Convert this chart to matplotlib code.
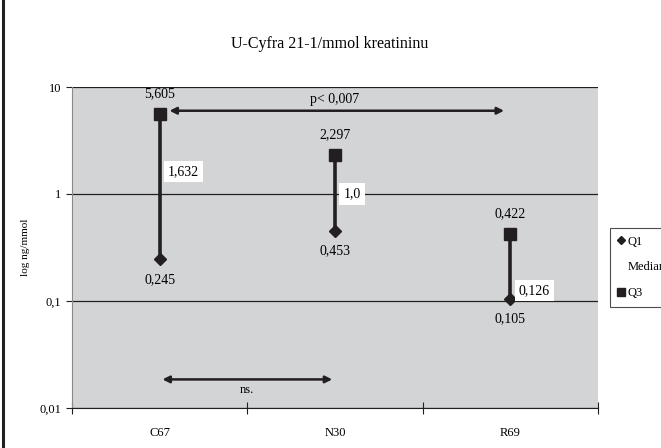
import numpy as np
import matplotlib.pyplot as plt
from matplotlib.lines import Line2D

groups = ['C67', 'N30', 'R69']
q1 = [0.245, 0.453, 0.105]
q3 = [5.605, 2.297, 0.422]
median = [1.632, 1.0, 0.126]
q1_txt = ['0,245', '0,453', '0,105']
q3_txt = ['5,605', '2,297', '0,422']
med_txt = ['1,632', '1,0', '0,126']

plt.rcParams['font.family'] = ['Liberation Serif', 'DejaVu Serif']

fig = plt.figure(figsize=(6.61, 4.48), dpi=100)
ax = fig.add_axes([72/661, 1-408/448, 526/661, 321/448])
ax.set_facecolor('#d3d4d6')

x = np.arange(len(groups)) + 0.5
for i in range(len(groups)):
    ax.plot([x[i], x[i]], [q1[i], q3[i]], color='#231f20', lw=2.6, zorder=3)
ax.plot(x, q1, 'D', color='#231f20', ms=6, zorder=4, label='Q1')
ax.plot(x, median, ls='none', marker='none', label='Median')
ax.plot(x, q3, 's', color='#231f20', ms=8, zorder=4, label='Q3')

for i in range(len(groups)):
    ax.annotate(q3_txt[i], (x[i], q3[i]), xytext=(0, 10), textcoords='offset points',
                ha='center', va='bottom', fontsize=10)
    ax.annotate(q1_txt[i], (x[i], q1[i]), xytext=(0, -10), textcoords='offset points',
                ha='center', va='top', fontsize=10)
    ax.annotate(med_txt[i], (x[i], median[i]), xytext=(6, 0), textcoords='offset points',
                ha='left', va='center', fontsize=10,
                bbox=dict(boxstyle='square,pad=0.3', fc='white', ec='none'), zorder=5)

ax.set_yscale('log')
ax.set_ylim(0.01, 10)
ax.set_xlim(0, 3)
ax.set_yticks([0.01, 0.1, 1, 10])
ax.set_yticklabels(['0,01', '0,1', '1', '10'], fontsize=9)
ax.yaxis.set_minor_locator(plt.NullLocator())
ax.set_xticks([0, 1, 2, 3])
ax.set_xticklabels([])
ax.set_xticks(x, minor=True)
ax.set_xticklabels(groups, minor=True, fontsize=9)
ax.tick_params(axis='x', which='major', direction='inout', length=8, color='#231f20')
ax.tick_params(axis='x', which='minor', length=0, pad=14)
ax.tick_params(axis='y', direction='out', length=4, color='#231f20')
ax.grid(axis='y', which='major', color='#231f20', lw=0.9)
for s in ['top', 'right']:
    ax.spines[s].set_visible(False)
ax.spines['left'].set_color('#8a8a8a')
ax.spines['bottom'].set_color('#231f20')
ax.set_axisbelow(True)
ax.set_ylabel('log ng/mmol', fontsize=8, labelpad=7)

ax.annotate('', xy=(2.48, 6.0), xytext=(0.54, 6.0),
            arrowprops=dict(arrowstyle='<|-|>', color='#231f20', lw=1.8, mutation_scale=10))
ax.text(1.5, 7.7, 'p< 0,007', ha='center', va='center', fontsize=10)
ax.annotate('', xy=(1.5, 0.0185), xytext=(0.5, 0.0185),
            arrowprops=dict(arrowstyle='<|-|>', color='#231f20', lw=1.8, mutation_scale=10))
ax.text(1.0, 0.0147, 'ns.', ha='center', va='center', fontsize=9)

fig.text(330/661, 1-44/448, 'U-Cyfra 21-1/mmol kreatininu', ha='center', va='center', fontsize=11.5)

leg = ax.legend(loc='upper left', bbox_to_anchor=(604/661, 1-222/448), bbox_transform=fig.transFigure,
                frameon=True, fancybox=False, fontsize=9, handlelength=0.5, handletextpad=0.3,
                labelspacing=1.1, borderpad=0.6, markerscale=0.7)
leg.get_frame().set_edgecolor('#231f20')
leg.get_frame().set_linewidth(0.8)

fig.add_artist(Line2D([3/661, 3/661], [0, 1], transform=fig.transFigure, color='#231f20', lw=2.2))

fig.savefig('out.png', dpi=100)
